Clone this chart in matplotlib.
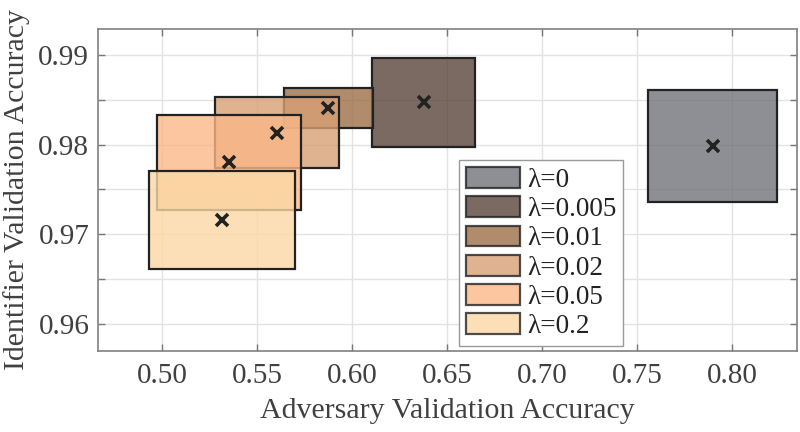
import matplotlib
matplotlib.use("Agg")
import matplotlib.pyplot as plt
from matplotlib.patches import Rectangle
from matplotlib.ticker import MultipleLocator

plt.rcParams['font.family'] = ['Liberation Serif', 'DejaVu Serif']

labels = ['λ=0', 'λ=0.005', 'λ=0.01', 'λ=0.02', 'λ=0.05', 'λ=0.2']
adv_mean = [0.7897, 0.6375, 0.5874, 0.5604, 0.5352, 0.5315]
adv_std = [0.0340, 0.0272, 0.0234, 0.0325, 0.0378, 0.0383]
id_mean = [0.9798, 0.9847, 0.9841, 0.9813, 0.9780, 0.9716]
id_std = [0.00625, 0.0050, 0.00226, 0.00397, 0.00526, 0.00545]
colors = ['#727379', '#59453b', '#9c6f47', '#d89f74', '#fab888', '#fcd8a4']

fig = plt.figure(figsize=(8, 4.32), dpi=100)
ax = fig.add_axes([0.1221, 0.1882, 0.8745, 0.7447])

for lab, mx, sx, my, sy, c in zip(labels, adv_mean, adv_std, id_mean, id_std, colors):
    ax.add_patch(Rectangle((mx - sx, my - sy), 2 * sx, 2 * sy, facecolor=c, alpha=0.8,
                           edgecolor='none', zorder=3, label=lab))
    ax.add_patch(Rectangle((mx - sx, my - sy), 2 * sx, 2 * sy, facecolor='none',
                           edgecolor='#222222', linewidth=1.6, zorder=3))

ax.plot(adv_mean, id_mean, linestyle='none', marker='x', markersize=9,
        markeredgewidth=2.6, color='#222222', zorder=5)

ax.set_xlim(0.466, 0.8342)
ax.set_ylim(0.95699, 0.9929)
ax.xaxis.set_major_locator(MultipleLocator(0.05))
ax.yaxis.set_major_locator(MultipleLocator(0.01))
ax.yaxis.set_minor_locator(MultipleLocator(0.005))
ax.xaxis.set_major_formatter(matplotlib.ticker.FormatStrFormatter('%.2f'))
ax.yaxis.set_major_formatter(matplotlib.ticker.FormatStrFormatter('%.2f'))

ax.grid(True, which='both', color='#e3e3e3', linewidth=1.0, zorder=0)
ax.set_axisbelow(True)
ax.tick_params(which='both', direction='in', top=True, right=True, length=5,
               width=1, color='#777777', labelsize=21, labelcolor='#404040')
ax.tick_params(axis='x', pad=9)
ax.tick_params(axis='y', pad=6)
for s in ax.spines.values():
    s.set_color('#808080')
    s.set_linewidth(1.2)

ax.set_xlabel('Adversary Validation Accuracy', fontsize=21.5, color='#404040', labelpad=6)
ax.set_ylabel('Identifier Validation Accuracy', fontsize=21.5, color='#404040', labelpad=6)

handles = [Rectangle((0, 0), 1, 1, facecolor=c, alpha=0.8, edgecolor='#222222', linewidth=1.6)
           for c in colors]
leg = ax.legend(handles, labels, loc='lower left', bbox_to_anchor=(0.574, 0.199),
                bbox_transform=fig.transFigure, borderaxespad=0, fontsize=19.5,
                handlelength=2.0, handleheight=0.8, labelspacing=0.13,
                handletextpad=0.25, borderpad=0.25, fancybox=False, framealpha=1,
                edgecolor='#999999')
leg.get_frame().set_linewidth(1.0)
for t in leg.get_texts():
    t.set_color('#222222')

fig.savefig('out.png', dpi=100)
